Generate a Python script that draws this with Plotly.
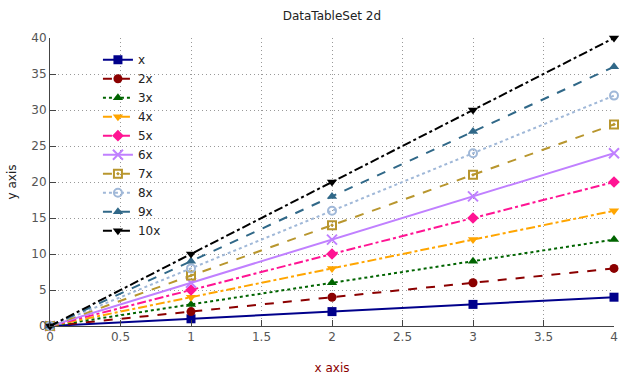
import plotly.graph_objects as go

x_values = [0, 1, 2, 3, 4]
series_names = ["x", "2x", "3x", "4x", "5x", "6x", "7x", "8x", "9x", "10x"]
series_values = {
    "x":   [0, 1, 2, 3, 4],
    "2x":  [0, 2, 4, 6, 8],
    "3x":  [0, 3, 6, 9, 12],
    "4x":  [0, 4, 8, 12, 16],
    "5x":  [0, 5, 10, 15, 20],
    "6x":  [0, 6, 12, 18, 24],
    "7x":  [0, 7, 14, 21, 28],
    "8x":  [0, 8, 16, 24, 32],
    "9x":  [0, 9, 18, 27, 36],
    "10x": [0, 10, 20, 30, 40],
}
colors = ["#00008B", "#8B0000", "#006400", "#FFA500", "#FF1493",
          "#C080FF", "#B8962E", "#A0B8D8", "#306888", "#000000"]
symbols = ["square", "circle", "triangle-up", "triangle-down", "diamond",
           "x-thin-open", "square-open-dot", "circle-open", "triangle-up", "triangle-down"]
dashes = ["solid", "dash", "dot", "dashdot", "dashdot", "solid", "dash", "dot", "dash", "dashdot"]

fig = go.Figure()
for name, c, s, d in zip(series_names, colors, symbols, dashes):
    mk = dict(symbol=s, size=9, color=c)
    if s == "x-thin-open":
        mk["line"] = dict(width=2, color=c)
        mk["size"] = 10
    elif s.endswith("open") or s.endswith("open-dot"):
        mk["line"] = dict(width=2, color=c)
        mk["size"] = 8
    fig.add_trace(go.Scatter(
        x=x_values, y=series_values[name], name=name, mode="lines+markers",
        line=dict(color=c, width=2, dash=d), marker=mk, cliponaxis=False,
    ))

axis_font = dict(family="DejaVu Sans", size=12, color="#555555")
grid_dash = "1px,3px"
fig.update_layout(
    width=625, height=376,
    margin=dict(l=50, r=11, t=38, b=50),
    paper_bgcolor="white", plot_bgcolor="white",
    title=dict(text="DataTableSet 2d", x=0.531, xanchor="center", y=0.97, yanchor="top",
               font=dict(family="DejaVu Sans", size=12, color="#222222")),
    font=dict(family="DejaVu Sans", size=12, color="#555555"),
    showlegend=True,
    legend=dict(x=0.085, y=0.975, xanchor="left", yanchor="top", bgcolor="rgba(0,0,0,0)",
                font=dict(family="DejaVu Sans", size=12, color="#222222"),
                itemwidth=30, tracegroupgap=0),
    xaxis=dict(range=[0, 4], dtick=0.5, showgrid=True, gridcolor="#999999", gridwidth=1, griddash=grid_dash,
               showline=True, linecolor="#444444", linewidth=1, ticks="inside", ticklen=6,
               tickcolor="#444444", zeroline=False, tickfont=axis_font, automargin=False,
               title=dict(text="x axis", font=dict(family="DejaVu Sans", size=12, color="#8B0000"), standoff=20)),
    yaxis=dict(range=[0, 40], dtick=5, showgrid=True, gridcolor="#999999", gridwidth=1, griddash=grid_dash,
               showline=True, linecolor="#444444", linewidth=1, ticks="inside", ticklen=6,
               tickcolor="#444444", zeroline=False, tickfont=axis_font, automargin=False,
               title=dict(text="y axis", font=dict(family="DejaVu Sans", size=12, color="#222222"), standoff=12)),
)
fig.write_html("out.html", config={"displayModeBar": False},
               post_script="document.body.style.margin='0';document.body.style.overflow='hidden';")
